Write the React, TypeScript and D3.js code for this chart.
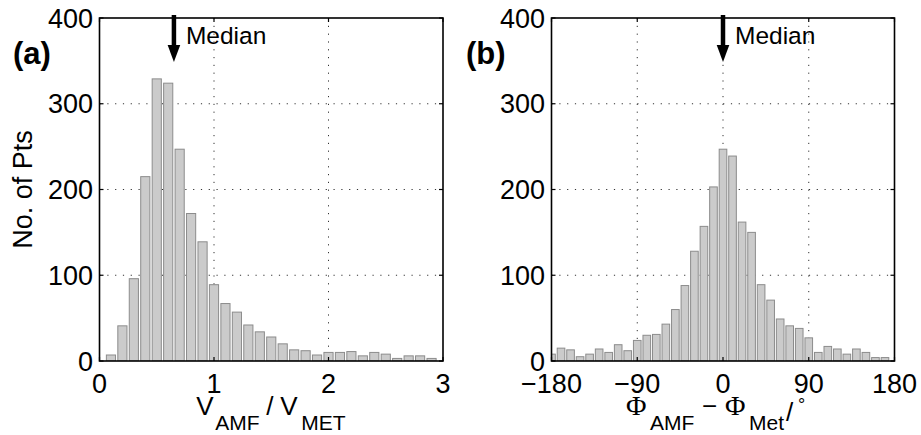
import React from "react";
import * as d3 from "d3";

// ---- data ----
const leftCenters = [0.1,0.2,0.3,0.4,0.5,0.6,0.7,0.8,0.9,1.0,1.1,1.2,1.3,1.4,1.5,1.6,1.7,1.8,1.9,2.0,2.1,2.2,2.3,2.4,2.5,2.6,2.7,2.8,2.9];
const leftCounts = [7,41,96,215,329,324,247,172,139,89,67,57,42,34,28,20,13,12,7,10,10,11,6,10,8,3,6,6,3];
const leftTicks = [0, 1, 2, 3];
const leftTickLabels = ["0", "1", "2", "3"];
const leftGridX = [1, 2];
const leftMedian = 0.65;

const rightCenters = [-180,-170,-160,-150,-140,-130,-120,-110,-100,-90,-80,-70,-60,-50,-40,-30,-20,-10,0,10,20,30,40,50,60,70,80,90,100,110,120,130,140,150,160,170];
const rightCounts = [8,15,13,5,8,14,10,19,12,24,30,31,43,60,88,128,157,203,247,239,162,150,89,71,49,41,38,27,10,17,14,8,14,10,4,4];
const rightTicks = [-180, -90, 0, 90, 180];
const rightTickLabels = ["\u2212180", "\u221290", "0", "90", "180"];
const rightGridX = [-90, 0, 90];
const rightMedian = 0;

const yTicks = [0, 100, 200, 300, 400];
const yGrid = [100, 200, 300];

const FONT = "'Liberation Sans', Arial, Helvetica, sans-serif";
const SERIF = "'Liberation Serif', 'Times New Roman', serif";

const TOP = 18;
const BOTTOM = 361;

type PanelProps = {
  id: string;
  x: d3.ScaleLinear<number, number>;
  centers: number[];
  counts: number[];
  binWidth: number;
  ticks: number[];
  tickLabels: string[];
  gridX: number[];
  median: number;
  letter: string;
  letterX: number;
  title: React.ReactNode;
};

const y = d3.scaleLinear().domain([0, 400]).range([BOTTOM, TOP]);

function Panel(p: PanelProps) {
  const [x0, x1] = p.x.range();
  const bw = Math.abs(p.x(p.binWidth) - p.x(0)) * 0.8;
  const mx = p.x(p.median);
  const tickLen = 4;
  return (
    <g>
      <defs>
        <clipPath id={"clip-" + p.id}>
          <rect x={x0} y={TOP} width={x1 - x0} height={BOTTOM - TOP} />
        </clipPath>
      </defs>
      {/* grid */}
      <g stroke="#333" strokeWidth={1} strokeDasharray="1.2,6.6">
        {yGrid.map((v) => (
          <line key={"gy" + v} x1={x0} x2={x1} y1={y(v)} y2={y(v)} />
        ))}
        {p.gridX.map((v) => (
          <line key={"gx" + v} x1={p.x(v)} x2={p.x(v)} y1={TOP} y2={BOTTOM} />
        ))}
      </g>
      {/* bars */}
      <g clipPath={`url(#clip-${p.id})`}>
        {p.centers.map((c, i) => (
          <rect
            key={i}
            x={p.x(c) - bw / 2}
            y={y(p.counts[i])}
            width={bw}
            height={BOTTOM - y(p.counts[i])}
            fill="#cbcbcb"
            stroke="#8c8c8c"
            strokeWidth={1}
          />
        ))}
      </g>
      {/* box */}
      <rect x={x0} y={TOP} width={x1 - x0} height={BOTTOM - TOP} fill="none" stroke="#000" strokeWidth={1.6} />
      {/* ticks */}
      <g stroke="#000" strokeWidth={1.2}>
        {p.ticks.map((t) => (
          <g key={"xt" + t}>
            <line x1={p.x(t)} x2={p.x(t)} y1={BOTTOM} y2={BOTTOM - tickLen} />
            <line x1={p.x(t)} x2={p.x(t)} y1={TOP} y2={TOP + tickLen} />
          </g>
        ))}
        {yTicks.map((t) => (
          <g key={"yt" + t}>
            <line x1={x0} x2={x0 + tickLen} y1={y(t)} y2={y(t)} />
            <line x1={x1} x2={x1 - tickLen} y1={y(t)} y2={y(t)} />
          </g>
        ))}
      </g>
      {/* tick labels */}
      <g fontFamily={FONT} fontSize={27} fill="#000">
        {p.ticks.map((t, i) => (
          <text key={"xl" + t} x={p.x(t)} y={BOTTOM + 32} textAnchor="middle">
            {p.tickLabels[i]}
          </text>
        ))}
        {yTicks.map((t) => (
          <text key={"yl" + t} x={x0 - 6.5} y={y(t) + 9.5} textAnchor="end">
            {t}
          </text>
        ))}
      </g>
      {/* panel letter */}
      <text x={p.letterX} y={64} fontFamily={FONT} fontWeight="bold" fontSize={31}>
        {p.letter}
      </text>
      {/* median arrow */}
      <line x1={mx} x2={mx} y1={15} y2={48} stroke="#000" strokeWidth={4.5} />
      <path d={`M${mx - 6.3},${45} L${mx + 6.3},${45} L${mx},${62} Z`} fill="#000" />
      <text x={mx + 12} y={44.3} fontFamily={FONT} fontSize={24.5}>
        Median
      </text>
      {p.title}
    </g>
  );
}

export default function App() {
  const xl = d3.scaleLinear().domain([0, 3]).range([99.5, 443]);
  const xr = d3.scaleLinear().domain([-180, 180]).range([551.5, 894.5]);
  const lc = (99.5 + 443) / 2;
  const rc = (551.5 + 894.5) / 2;

  const leftTitle = (
    <text y={415} fontFamily={FONT} fontSize={26}>
      <tspan x={lc - 75}>V</tspan>
      <tspan x={lc - 56} fontSize={21} dy={15}>AMF</tspan>
      <tspan x={lc - 5} dy={-15}>/</tspan>
      <tspan x={lc + 9}>V</tspan>
      <tspan x={lc + 30} fontSize={21} dy={15}>MET</tspan>
    </text>
  );

  const rightTitle = (
    <text y={415} fontFamily={FONT} fontSize={26}>
      <tspan x={rc - 97} fontFamily={SERIF} fontSize={28}>Φ</tspan>
      <tspan x={rc - 73} fontSize={21} dy={15}>AMF</tspan>
      <tspan x={rc - 21} dy={-15}>−</tspan>
      <tspan x={rc + 2} fontFamily={SERIF} fontSize={28}>Φ</tspan>
      <tspan x={rc + 26} fontSize={21} dy={15}>Met</tspan>
      <tspan x={rc + 63} dy={-9}>/</tspan>
      <tspan x={rc + 75} fontSize={18} dy={-10}>°</tspan>
    </text>
  );

  return (
    <svg
      width={921}
      height={435}
      style={{ position: "absolute", left: 0, top: 0, background: "#fff" }}
    >
      <rect x={0} y={0} width={921} height={435} fill="#fff" />
      <Panel
        id="a"
        x={xl}
        centers={leftCenters}
        counts={leftCounts}
        binWidth={0.1}
        ticks={leftTicks}
        tickLabels={leftTickLabels}
        gridX={leftGridX}
        median={leftMedian}
        letter="(a)"
        letterX={13}
        title={leftTitle}
      />
      <Panel
        id="b"
        x={xr}
        centers={rightCenters}
        counts={rightCounts}
        binWidth={10}
        ticks={rightTicks}
        tickLabels={rightTickLabels}
        gridX={rightGridX}
        median={rightMedian}
        letter="(b)"
        letterX={466}
        title={rightTitle}
      />
      <text
        transform={`translate(32,${(TOP + BOTTOM) / 2}) rotate(-90)`}
        textAnchor="middle"
        fontFamily={FONT}
        fontSize={27}
      >
        No. of Pts
      </text>
    </svg>
  );
}
